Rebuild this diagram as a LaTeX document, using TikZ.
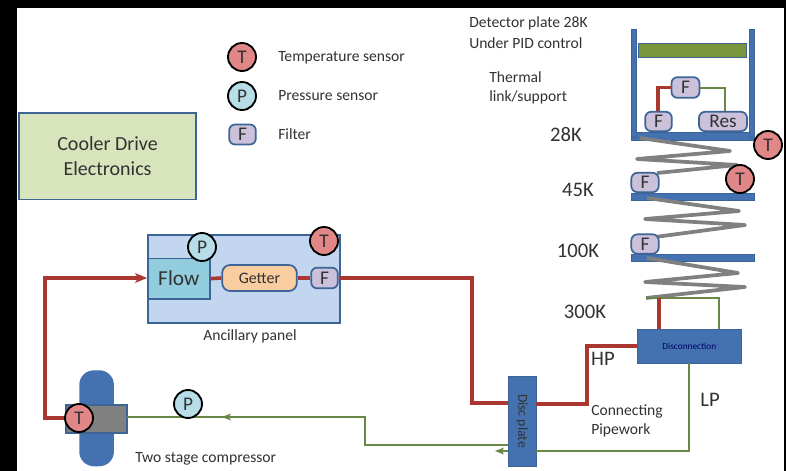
\documentclass[tikz,border=0pt]{standalone}
\usepackage{fontspec}
\setmainfont{Carlito}
\usetikzlibrary{arrows.meta}
\definecolor{ublue}{RGB}{68,114,176}
\definecolor{uedge}{RGB}{60,100,150}
\definecolor{upipe}{RGB}{170,55,50}
\definecolor{ugreen}{RGB}{105,135,70}
\definecolor{ugrey}{RGB}{128,128,128}
\definecolor{utxt}{RGB}{50,50,50}
\definecolor{utemp}{RGB}{225,135,135}
\definecolor{upres}{RGB}{183,222,232}
\definecolor{ufilt}{RGB}{204,193,218}
\definecolor{ugett}{RGB}{250,205,160}
\definecolor{upanel}{RGB}{195,214,240}
\definecolor{uflow}{RGB}{145,205,220}
\definecolor{ucool}{RGB}{215,228,188}
\definecolor{ubar}{RGB}{122,150,60}
\tikzset{
 x=0.75pt,y=-0.75pt,
 sensor/.style={circle,draw=black,line width=1.4pt,minimum size=21pt,inner sep=0pt,text=utxt,font=\fontsize{14.5}{16}\selectfont},
 tsens/.style={sensor,fill=utemp},
 psens/.style={sensor,fill=upres},
 filt/.style={rounded corners=4.5pt,draw=uedge,line width=1.3pt,fill=ufilt,inner sep=0pt,text=utxt,font=\fontsize{14.5}{16}\selectfont},
 hot/.style={draw=upipe,line width=2.7pt},
 cold/.style={draw=ugreen,line width=1.5pt},
 coil/.style={draw=ugrey,line width=2.8pt,line join=round},
 plate/.style={fill=ublue,draw=uedge,line width=.5pt,inner sep=0pt},
 lab/.style={text=utxt,inner sep=0pt,font=\fontsize{11.7}{14}\selectfont},
 big/.style={text=utxt,inner sep=0pt,font=\fontsize{15.5}{18}\selectfont},
}
\begin{document}
\begin{tikzpicture}
\useasboundingbox (0,0) rectangle (786,471);
\fill[black] (0,0) rectangle (786,471);
\fill[white] (17,8) rectangle (784,471);
% Cooler box
\node[draw=uedge,line width=1.3pt,fill=ucool,anchor=north west,minimum width=133pt,minimum height=65pt,align=center,text=utxt,font=\fontsize{15}{19}\selectfont] (cooler) at (18,112) {Cooler Drive\\Electronics};
% Legend
\node[tsens] (legt) at (242,57) {T};
\node[psens] (legp) at (242,96) {P};
\node[filt,minimum width=20pt,minimum height=15pt] (legf) at (242.5,134.5) {F};
\node[lab,anchor=west] (lt) at (278,58) {Temperature sensor};
\node[lab,anchor=west] (lp) at (278,96) {Pressure sensor};
\node[lab,anchor=west] (lf) at (278,134) {Filter};
% Top texts
\node[lab,anchor=west] (d1) at (469,23) {Detector plate 28K};
\node[lab,anchor=west] (d2) at (469,43) {Under PID control};
\node[lab,anchor=west] (t1) at (489,77) {Thermal};
\node[lab,anchor=west] (t2) at (489,97) {link/support};
\node[big] (k28) at (566,135) {28K};
\node[big] (k45) at (578,190) {45K};
\node[big] (k100) at (578,251) {100K};
\node[big] (k300) at (585,312) {300K};
\node[big] (hp) at (603,359) {HP};
\node[big] (lpl) at (710,400) {LP};
\node[lab,anchor=west] (c1) at (591,411) {Connecting};
\node[lab,anchor=west] (c2) at (591,430) {Pipework};
% Panel
\node[draw=uedge,line width=1.2pt,fill=upanel,anchor=north west,minimum width=144pt,minimum height=66pt,inner sep=0pt] (panel) at (147,234) {};
\node[draw=uedge,line width=1.2pt,fill=uflow,anchor=north west,minimum width=46.5pt,minimum height=30.5pt,inner sep=0pt,text=utxt,font=\fontsize{16}{18}\selectfont] (flow) at (147,257.5) {Flow};
\node[draw=uedge,line width=1.3pt,fill=ugett,rounded corners=6pt,minimum width=56pt,minimum height=19.5pt,inner sep=0pt,text=utxt,font=\fontsize{12}{14}\selectfont] (getter) at (259.5,278) {Getter};
\node[filt,minimum width=20pt,minimum height=15.5pt] (pf) at (324.5,278) {F};
\draw[hot] (flow.east) -- (getter.west);
\draw[hot] (getter.east) -- (pf.west);
\node[psens] (pp) at (202,247) {P};
\node[tsens] (pt) at (324,241) {T};
\node[lab] (anc) at (250,336) {Ancillary panel};
% Disc plate
\node[plate,anchor=north west,minimum width=21pt,minimum height=67.5pt] (disc) at (508,376) {};
\node[rotate=-90,text=black!80,inner sep=0pt,font=\fontsize{10.3}{12}\selectfont] (disct) at (522,421) {Disc plate};
% Disconnection
\node[plate,anchor=north west,minimum width=78pt,minimum height=25.5pt,text=blue!40!black,font=\fontsize{7}{8}\selectfont] (disco) at (637,329) {Disconnection};
% Compressor
\node[fill=ublue,rounded corners=11pt,anchor=north west,minimum width=26pt,minimum height=72pt,inner sep=0pt] (drum) at (79,370) {};
\node[draw=uedge,line width=1.2pt,fill=ugrey,anchor=north west,minimum width=46pt,minimum height=21pt,inner sep=0pt] (comp) at (65,404) {};
\node[lab,anchor=west] (twos) at (135,459) {Two stage compressor};
% Pipes
\coordinate (a1) at (472,278);
\coordinate (a2) at (472,403);
\coordinate (b1) at (587,404);
\coordinate (b2) at (587,346);
\coordinate (w1) at (45,418);
\coordinate (w2) at (45,278);
\draw[hot] (pf.east) -- (a1) -- (a2) -- (508,403);
\draw[hot] (536,404) -- (b1) -- (b2) -- (637,346);
\draw[hot] (65,418) -- (w1) -- (w2) -- (140,278);
\fill[upipe] (147,278) -- (135,273) -- (138,278) -- (135,283) -- cycle;
\coordinate (l1) at (689,451);
\draw[cold] (689,363) -- (l1) -- (536,451);
\draw[cold] (508,445) -- (365,445) -- (365,417) -- (127,417);
\fill[ugreen] (222,417) -- (231,413.5) -- (229,417) -- (231,420.5) -- cycle;
\draw[cold] (508,451) -- (497,451);
\fill[ugreen] (495,451) -- (504,447.5) -- (502,451) -- (504,454.5) -- cycle;
\node[psens] (cp) at (188,404) {P};
\node[tsens] (ct) at (79,418) {T};
% Stage
\node[plate,anchor=north west,minimum width=92.5pt,minimum height=6pt] (p28) at (631,132) {};
\node[plate,anchor=north west,minimum width=92.5pt,minimum height=5.5pt] (p45) at (631,193) {};
\node[plate,anchor=north west,minimum width=92.5pt,minimum height=5.5pt] (p100) at (631,254) {};
\node[plate,anchor=north west,minimum width=3.8pt,minimum height=81pt] (wl) at (631,29) {};
\node[plate,anchor=north west,minimum width=3.8pt,minimum height=81pt] (wr) at (749,29) {};
\node[draw=uedge,line width=1pt,fill=ubar,anchor=north west,minimum width=81pt,minimum height=10.5pt,inner sep=0pt] (bar) at (638,43) {};
\node[filt,minimum width=21pt,minimum height=15.5pt] (f1) at (685.5,87.5) {F};
\node[filt,minimum width=20pt,minimum height=14.5pt] (f2) at (658.5,121.5) {F};
\node[filt,minimum width=36pt,minimum height=14.5pt] (res) at (723,121.5) {Res};
\coordinate (k1) at (658,87.5);
\coordinate (k2) at (725,87.5);
\draw[hot] (f2.north -| k1) -- (k1) -- (f1.west);
\draw[cold] (f1.east) -- (k2) -- (k2 |- res.north);
% Coils
\draw[coil] (640,138) -- (730,151) -- (637,159) -- (737,165) -- (657,173);
\draw[coil] (647,198) -- (739,211) -- (645,219) -- (745,225) -- (655,237);
\draw[coil] (647,258) -- (738,273) -- (645,282) -- (745,287) -- (646,298);
\node[filt,minimum width=20.5pt,minimum height=14.5pt] (f45) at (645,182.5) {F};
\node[filt,minimum width=20.5pt,minimum height=14.5pt] (f100) at (645,244) {F};
\node[tsens] (t28) at (768,145) {T};
\node[tsens] (t45) at (740,179) {T};
% Disconnection links
\coordinate (g1) at (719,298);
\draw[cold] (646,298) -- (g1) -- (719,329);
\draw[hot] (659,298) -- (659,329);
\end{tikzpicture}
\end{document}
